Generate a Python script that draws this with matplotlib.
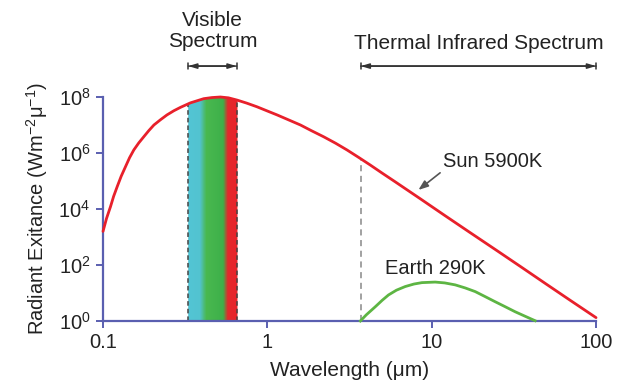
import numpy as np
import matplotlib
matplotlib.use("Agg")
import matplotlib.pyplot as plt
from matplotlib.colors import LinearSegmentedColormap
import matplotlib.transforms as mtransforms

plt.rcParams['font.family'] = ['Liberation Sans', 'DejaVu Sans']
plt.rcParams['mathtext.fontset'] = 'custom'
plt.rcParams['mathtext.rm'] = 'Liberation Sans'
plt.rcParams['mathtext.it'] = 'Liberation Sans:italic'

# ---- data ----
sun_wavelength = [0.1, 0.105, 0.111, 0.116, 0.122, 0.129, 0.137, 0.145, 0.154,
                  0.165, 0.177, 0.19, 0.204, 0.224, 0.245, 0.27, 0.296, 0.34,
                  0.41, 0.46, 0.518, 0.58, 0.654, 0.75, 0.865, 1.0, 1.146,
                  1.35, 1.59, 1.85, 2.2, 2.6, 3.05, 3.6, 4.23, 5.0, 6.0, 8.5,
                  12, 17, 25, 35, 50, 70, 100]
sun_log_exitance = [3.2, 3.66, 4.08, 4.45, 4.8, 5.17, 5.51, 5.83, 6.11, 6.36,
                    6.58, 6.8, 7.0, 7.19, 7.36, 7.51, 7.63, 7.79, 7.94, 7.98,
                    8.0, 7.97, 7.89, 7.78, 7.65, 7.5, 7.36, 7.18, 7.0, 6.8,
                    6.58, 6.35, 6.11, 5.84, 5.57, 5.28, 4.97, 4.37, 3.77, 3.17,
                    2.51, 1.93, 1.31, 0.73, 0.12]

earth_wavelength = [3.68, 4.0, 4.54, 5.0, 5.46, 6.1, 6.9, 7.8, 8.72, 10.5,
                    12.0, 13.9, 16.0, 18.4, 21.0, 24.3, 28.0, 32.2, 37.0, 42.6]
earth_log_exitance = [0.0, 0.22, 0.51, 0.74, 0.93, 1.1, 1.23, 1.32, 1.37, 1.39,
                      1.36, 1.29, 1.18, 1.05, 0.88, 0.69, 0.51, 0.33, 0.17, 0.01]

visible_range = [0.33, 0.65]
thermal_range = [3.7, 100]

x_ticks = [0.1, 1, 10, 100]
x_tick_labels = ["0.1", "1", "10", "100"]
y_ticks = [1e0, 1e2, 1e4, 1e6, 1e8]
y_tick_labels = [r"10$^{0}$", r"10$^{2}$", r"10$^{4}$", r"10$^{6}$", r"10$^{8}$"]

sun_label = "Sun 5900K"
earth_label = "Earth 290K"

# ---- styles ----
axis_color = '#5a5fb0'
sun_color = '#e8202b'
earth_color = '#5db543'
text_color = '#222222'

sun_y = 10 ** np.array(sun_log_exitance)
earth_y = 10 ** np.array(earth_log_exitance)


def sun_at(x):
    return 10 ** np.interp(np.log10(x), np.log10(sun_wavelength), sun_log_exitance)


fig = plt.figure(figsize=(6.27, 3.88), dpi=100)
ax = fig.add_axes([0.1643, 0.1727, 0.7863, 0.5773])
ax.set_xscale('log')
ax.set_yscale('log')
ax.set_xlim(0.1, 100)
ax.set_ylim(1, 1e8)

# visible band gradient
cmap = LinearSegmentedColormap.from_list(
    'vis', [(0.0, '#52c4d4'), (0.24, '#52c3d0'), (0.37, '#49b84f'),
            (0.72, '#3db049'), (0.82, '#e3282c'), (1.0, '#e8242a')])
n = 120
edges = np.logspace(np.log10(visible_range[0]), np.log10(visible_range[1]), n + 1)
for i in range(n):
    xs = np.logspace(np.log10(edges[i]), np.log10(edges[i + 1]), 4)
    c = cmap((i + 0.5) / n)
    ax.fill_between(xs, 1, sun_at(xs), color=c, lw=0.4, edgecolor=c, zorder=1)

# dashed boundaries
for xv in visible_range:
    ax.plot([xv, xv], [1, sun_at(xv)], ls=(0, (3, 2)), color='#444444', lw=1.1, zorder=2)
ax.plot([thermal_range[0]] * 2, [1, sun_at(thermal_range[0])], ls=(0, (4, 3)),
        color='#888888', lw=1.1, zorder=2)

# curves
ax.plot(sun_wavelength, sun_y, color=sun_color, lw=2.0, zorder=4, clip_on=False,
        solid_joinstyle='round', solid_capstyle='round')
ax.plot(earth_wavelength, earth_y, color=earth_color, lw=2.0, zorder=4, clip_on=False,
        solid_joinstyle='round')

# axes styling
for s in ['top', 'right']:
    ax.spines[s].set_visible(False)
for s in ['left', 'bottom']:
    ax.spines[s].set_color(axis_color)
    ax.spines[s].set_linewidth(1.6)
ax.set_xticks(x_ticks)
ax.set_xticklabels(x_tick_labels)
ax.set_yticks(y_ticks)
ax.set_yticklabels(y_tick_labels)
ax.minorticks_off()
ax.tick_params(axis='both', which='major', direction='out', length=5, width=1.4,
               color=axis_color, labelsize=14.5, labelcolor=text_color, pad=4)

ax.set_xlabel("Wavelength (μm)", fontsize=15, color=text_color, labelpad=6)
ax.set_ylabel(r"Radiant Exitance (Wm$^{-2}$μ$^{-1}$)", fontsize=14.5, color=text_color,
              labelpad=6)

# spectrum markers above the axes
trans = mtransforms.blended_transform_factory(ax.transData, ax.transAxes)
arrow_y = 1.138
for rng in (visible_range, thermal_range):
    ax.annotate('', xy=(rng[1], arrow_y), xytext=(rng[0], arrow_y), xycoords=trans,
                textcoords=trans, annotation_clip=False,
                arrowprops=dict(arrowstyle='<|-|>,head_length=0.5,head_width=0.15',
                                color='#333333', lw=1.1, shrinkA=0, shrinkB=0))
    ax.annotate('', xy=(rng[1], arrow_y), xytext=(rng[0], arrow_y), xycoords=trans,
                textcoords=trans, annotation_clip=False,
                arrowprops=dict(arrowstyle='|-|,widthA=0.2,widthB=0.2',
                                color='#333333', lw=1.1, shrinkA=0, shrinkB=0))

vis_center = 10 ** np.mean(np.log10(visible_range))
th_center = 10 ** np.mean(np.log10(thermal_range))
ax.text(vis_center, 1.295, "Visible\nSpectrum", transform=trans, ha='center',
        va='center', fontsize=15, color=text_color, linespacing=1.15)
ax.text(th_center, 1.241, "Thermal Infrared Spectrum", transform=trans, ha='center',
        va='center', fontsize=15, color=text_color)

# curve labels
ax.annotate(sun_label, xy=(8.3, 10 ** 4.68), xytext=(11.7, 10 ** 5.71),
            fontsize=14.5, color=text_color, ha='left', va='center',
            arrowprops=dict(arrowstyle='-|>,head_length=0.4,head_width=0.15',
                            color='#555555', lw=1.2, shrinkA=0, shrinkB=0,
                            relpos=(0.0, 0.0)))
ax.text(5.22, 10 ** 1.89, earth_label, fontsize=14.5, color=text_color,
        ha='left', va='center')

fig.savefig('out.png', dpi=100)
